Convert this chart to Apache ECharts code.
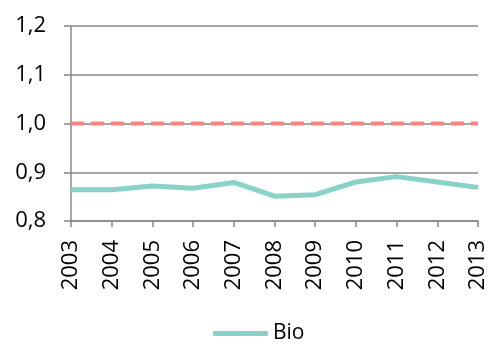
<!DOCTYPE html>
<html><head><meta charset="utf-8">
<script src="https://cdn.jsdelivr.net/npm/echarts@6/dist/echarts.min.js"></script>
<style>html,body{margin:0;padding:0;background:#fff}#c{width:491px;height:347px}</style>
</head><body><div id="c"></div>
<script>
var years = ['2003','2004','2005','2006','2007','2008','2009','2010','2011','2012','2013'];
var bio = [0.864, 0.864, 0.872, 0.867, 0.879, 0.851, 0.854, 0.880, 0.891, 0.880, 0.869];
var reference = [1.0, 1.0, 1.0, 1.0, 1.0, 1.0, 1.0, 1.0, 1.0, 1.0, 1.0];
var yTicks = {min: 0.8, max: 1.2, interval: 0.1};

var chart = echarts.init(document.getElementById('c'));
chart.setOption({
  animation: false,
  grid: {left: 71, right: 13, top: 26, bottom: 126, containLabel: false},
  legend: {
    top: 318, left: 208,
    data: [{name: 'Bio'}],
    itemWidth: 55, itemHeight: 5, itemGap: 6,
    textStyle: {fontFamily: 'Open Sans', fontSize: 21, color: '#000'},
    icon: 'roundRect'
  },
  xAxis: {
    type: 'category', data: years, boundaryGap: false,
    axisLine: {lineStyle: {color: '#888', width: 1.5}},
    axisTick: {show: true, alignWithLabel: true, length: 6, lineStyle: {color: '#888', width: 1.5}},
    axisLabel: {rotate: 90, fontFamily: 'Open Sans', fontSize: 22, color: '#000', margin: 19, interval: 0}
  },
  yAxis: {
    type: 'value', min: yTicks.min, max: yTicks.max, interval: yTicks.interval,
    axisLine: {show: true, lineStyle: {color: '#888', width: 1.5}},
    axisTick: {show: true, length: 7, lineStyle: {color: '#888', width: 1.5}},
    splitLine: {lineStyle: {color: '#888', width: 1.5}},
    axisLabel: {fontFamily: 'Open Sans', fontSize: 22, color: '#000', margin: 25,
      formatter: function (v) { return v.toFixed(1).replace('.', ','); }}
  },
  series: [
    {name: 'ref', type: 'line', data: reference, symbol: 'none', z: 3,
      lineStyle: {color: '#ff8080', width: 4, type: [13, 7]}},
    {name: 'Bio', type: 'line', data: bio, symbol: 'none', z: 4,
      itemStyle: {color: '#88d3c5'},
      lineStyle: {color: '#88d3c5', width: 5}}
  ]
});
</script></body></html>
